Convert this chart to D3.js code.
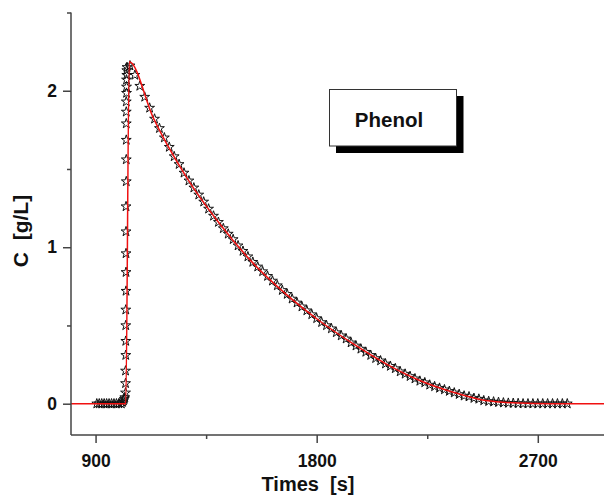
<!DOCTYPE html>
<html>
<head>
<meta charset="utf-8">
<script src="https://cdn.jsdelivr.net/npm/d3@7"></script>
<style>
  body { margin: 0; background: #fff; }
  svg text { font-family: "Liberation Sans", Arial, sans-serif; font-weight: bold; fill: #111; }
</style>
</head>
<body>
<svg id="chart"></svg>
<script>
// measured points (stars): baseline, injection column, decay
const baseTimes = [905, 915, 925, 935, 945, 955, 965, 975, 985, 995, 1005, 1010, 1014, 1017, 1019];
const baseValues = [0, 0, 0, 0, 0, 0, 0, 0, 0, 0, 0, 0.01, 0.02, 0.03, 0.04];

const riseTimes = [1022, 1022, 1022, 1023, 1023, 1023, 1023, 1024, 1024, 1024, 1024, 1024, 1025, 1025, 1025, 1025, 1025, 1025, 1026, 1026, 1026, 1027, 1027, 1028];
const riseValues = [0.07, 0.13, 0.21, 0.31, 0.40, 0.50, 0.60, 0.72, 0.84, 0.96, 1.10, 1.26, 1.42, 1.56, 1.685, 1.79, 1.865, 1.93, 1.985, 2.025, 2.07, 2.10, 2.13, 2.15];

const decayTimes = [1040, 1060, 1080, 1100, 1120, 1140, 1160, 1180, 1200, 1220,
  1240, 1260, 1280, 1300, 1320, 1340, 1360, 1380, 1400, 1420,
  1440, 1460, 1480, 1500, 1520, 1540, 1560, 1580, 1600, 1620,
  1640, 1660, 1680, 1700, 1720, 1740, 1760, 1780, 1800, 1820,
  1840, 1860, 1880, 1900, 1920, 1940, 1960, 1980, 2000, 2020,
  2040, 2060, 2080, 2100, 2120, 2140, 2160, 2180, 2200, 2220,
  2240, 2260, 2280, 2300, 2320, 2340, 2360, 2380, 2400, 2420,
  2440, 2460, 2480, 2500, 2520, 2540, 2560, 2580, 2600, 2620,
  2640, 2660, 2680, 2700, 2720, 2740, 2760, 2780, 2800, 2820];
const decayValues = [2.16, 2.10, 2.03, 1.96, 1.89, 1.82, 1.76, 1.70, 1.64, 1.58,
  1.53, 1.475, 1.425, 1.38, 1.335, 1.29, 1.245, 1.20, 1.16, 1.12,
  1.085, 1.05, 1.01, 0.975, 0.94, 0.905, 0.875, 0.845, 0.815, 0.785,
  0.755, 0.725, 0.70, 0.67, 0.645, 0.62, 0.595, 0.57, 0.545, 0.52,
  0.50, 0.48, 0.455, 0.435, 0.415, 0.39, 0.37, 0.35, 0.33, 0.31,
  0.29, 0.275, 0.255, 0.24, 0.225, 0.205, 0.19, 0.175, 0.16, 0.145,
  0.135, 0.12, 0.11, 0.10, 0.09, 0.08, 0.07, 0.06, 0.05, 0.045,
  0.035, 0.03, 0.02, 0.015, 0.012, 0.009, 0.006, 0.004, 0.003, 0.002,
  0, 0, 0, 0, 0, 0, 0, 0, 0, 0];

// model fit (red line)
const fitTimes = [800, 1015, 1023, 1037, 1134, 1269, 1405, 1540, 1675, 1811, 1946, 2082, 2217, 2352, 2488, 2623, 2750, 3000];
const fitValues = [0, 0, 0, 2.185, 1.83, 1.45, 1.15, 0.90, 0.70, 0.53, 0.385, 0.255, 0.15, 0.075, 0.02, 0.004, 0, 0];

const xMajor = [900, 1800, 2700];
const xMinor = [1350, 2250];
const yMajor = [0, 1, 2];
const yMinor = [0.5, 1.5, 2.5];

const width = 604, height = 496;
const plotLeft = 71, plotRight = 611.5, plotTop = 12.5, plotBottom = 435;

const svg = d3.select('#chart').attr('width', width).attr('height', height);

const x = d3.scaleLinear().domain([800, 3000]).range([plotLeft, plotRight]);
const y = d3.scaleLinear().domain([-0.2, 2.5]).range([plotBottom, plotTop]);

svg.append('clipPath').attr('id', 'plot-clip')
  .append('rect').attr('x', plotLeft).attr('y', 0).attr('width', plotRight - plotLeft).attr('height', plotBottom);

const plot = svg.append('g').attr('clip-path', 'url(#plot-clip)');

const stars = d3.zip(baseTimes, baseValues)
  .concat(d3.zip(riseTimes, riseValues))
  .concat(d3.zip(decayTimes, decayValues));

const star = d3.symbol().type(d3.symbolStar).size(30);

plot.append('g').attr('class', 'stars')
  .selectAll('path')
  .data(stars)
  .enter()
  .append('path')
  .attr('transform', d => `translate(${x(d[0])},${y(d[1])})`)
  .attr('d', star)
  .attr('fill', 'none')
  .attr('stroke', '#111')
  .attr('stroke-width', 1);

const fitLine = d3.line()
  .x(d => x(d[0]))
  .y(d => y(d[1]))
  .curve(d3.curveMonotoneX);

plot.append('path')
  .datum(d3.zip(fitTimes, fitValues))
  .attr('d', fitLine)
  .attr('fill', 'none')
  .attr('stroke', '#f01010')
  .attr('stroke-width', 1.5);

// axes (major ticks labelled, minor ticks short)
const xAxis = svg.append('g').attr('transform', `translate(0,${plotBottom})`)
  .call(d3.axisBottom(x).tickValues(xMajor).tickSize(8).tickSizeOuter(0).tickPadding(12).tickFormat(d3.format('d')));
xAxis.append('g')
  .call(d3.axisBottom(x).tickValues(xMinor).tickSize(4).tickFormat(''))
  .select('.domain').remove();

const yAxis = svg.append('g').attr('transform', `translate(${plotLeft},0)`)
  .call(d3.axisLeft(y).tickValues(yMajor).tickSize(8).tickSizeOuter(0).tickPadding(6).tickFormat(d3.format('d')));
yAxis.append('g')
  .call(d3.axisLeft(y).tickValues(yMinor).tickSize(4).tickFormat(''))
  .select('.domain').remove();

svg.selectAll('.domain, .tick line').attr('stroke', '#444').attr('stroke-width', 1.5);
svg.selectAll('.tick text').attr('font-size', 17.5).attr('fill', '#111');
// axisBottom draws the domain to the range end, off the visible edge
xAxis.select('.domain').attr('d', `M${plotLeft},0H${width}`);
yAxis.select('.domain').attr('d', `M0,${plotTop}V${plotBottom}`);

svg.append('text')
  .attr('x', 308).attr('y', 491)
  .attr('text-anchor', 'middle')
  .attr('font-size', 20)
  .style('white-space', 'pre')
  .text('Times  [s]');

svg.append('text')
  .attr('transform', 'translate(28,231) rotate(-90)')
  .attr('text-anchor', 'middle')
  .attr('font-size', 21)
  .style('white-space', 'pre')
  .text('C  [g/L]');

// Phenol label box with drop shadow
const label = svg.append('g');
label.append('rect')
  .attr('x', 336).attr('y', 96).attr('width', 127.5).attr('height', 57)
  .attr('fill', '#000');
label.append('rect')
  .attr('x', 329.5).attr('y', 89.5).attr('width', 127).attr('height', 56.5)
  .attr('fill', '#fff').attr('stroke', '#333').attr('stroke-width', 1);
label.append('text')
  .attr('x', 389).attr('y', 127)
  .attr('text-anchor', 'middle')
  .attr('font-size', 20.5)
  .text('Phenol');
</script>
</body>
</html>
